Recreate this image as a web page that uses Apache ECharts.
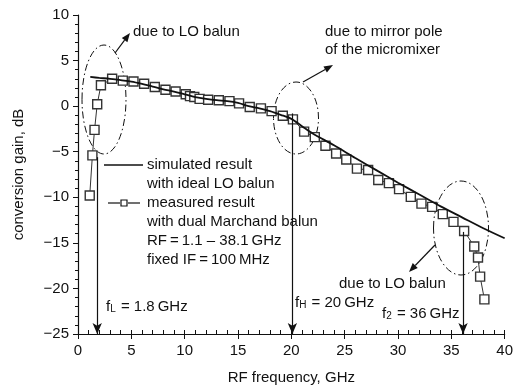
<!DOCTYPE html>
<html>
<head>
<meta charset="utf-8">
<script src="https://cdn.jsdelivr.net/npm/echarts@6/dist/echarts.min.js"></script>
<style>
  html, body { margin: 0; padding: 0; background: #fff; }
  #chart { width: 516px; height: 392px; }
</style>
</head>
<body>
<div id="chart"></div>
<script>
// measured result (dual Marchand balun)
const measFreq = [1.1, 1.35, 1.55, 1.8, 2.15, 3.2, 4.2, 5.2, 6.2, 7.2, 8.2, 9.15, 10.1, 10.5, 10.9, 11.4,
  12.2, 13.2, 14.2, 15.1, 16.1, 17.15, 18.15, 19.2, 20.15, 21.2, 22.2, 23.2, 24.2, 25.15, 26.15, 27.2,
  28.15, 29.15, 30.1, 31.2, 32.2, 33.2, 34.2, 35.2, 36.2, 37.15, 37.5, 37.7, 38.1];
const measGain = [-9.8, -5.4, -2.6, 0.2, 2.3, 3.0, 2.8, 2.7, 2.45, 2.1, 1.8, 1.6, 1.3, 1.1, 1.0, 0.8,
  0.7, 0.65, 0.55, 0.3, -0.1, -0.25, -0.55, -1.05, -1.45, -2.8, -3.4, -4.35, -5.2, -5.85, -6.85, -7.0,
  -8.1, -8.45, -9.1, -9.95, -10.7, -11.05, -11.85, -12.7, -13.7, -15.4, -16.6, -18.7, -21.2];

// simulated result (ideal LO balun)
const simFreq = [1.15, 2, 3, 4, 5, 6, 7, 8, 9, 10, 11, 12, 13, 14, 15, 16, 17, 18, 19, 20,
  21, 22, 24, 26, 28, 30, 32, 34, 36, 38, 40];
const simGain = [3.2, 3.1, 3.0, 2.85, 2.7, 2.45, 2.15, 1.85, 1.6, 1.3, 1.0, 0.8, 0.65, 0.55, 0.35, 0.0,
  -0.25, -0.55, -0.95, -1.4, -2.2, -3.0, -4.3, -5.7, -7.05, -8.4, -9.7, -11.0, -12.2, -13.4, -14.5];

// vertical marker arrows: frequency and gain where the arrow starts
const markFreq = [1.8, 20.1, 36.1];
const markTop = [-5.6, -0.8, -13.8];

const FONT = '"Liberation Sans", Arial, Helvetica, sans-serif';
const FS = 15;

const chart = echarts.init(document.getElementById('chart'), null, { renderer: 'canvas' });

const pairs = (xs, ys) => xs.map((x, i) => [x, ys[i]]);
const minus = v => String(v).replace('-', '\u2212');

function arrow(x1, y1, x2, y2) {
  const a = Math.atan2(y2 - y1, x2 - x1);
  const len = 9, w = 3.5;
  const bx = x2 - len * Math.cos(a), by = y2 - len * Math.sin(a);
  const px = -Math.sin(a) * w, py = Math.cos(a) * w;
  return [
    { type: 'line', shape: { x1, y1, x2: bx, y2: by }, style: { stroke: '#111', lineWidth: 1.2 } },
    { type: 'polygon', shape: { points: [[x2, y2], [bx + px, by + py], [bx - px, by - py]] }, style: { fill: '#111' } }
  ];
}

function ellipse(cx, cy, rx, ry) {
  return { type: 'ellipse', shape: { cx, cy, rx, ry },
    style: { fill: null, stroke: '#111', lineWidth: 1, lineDash: [7, 3, 1.5, 3] } };
}

function txt(x, y, text) {
  return { type: 'text', x, y, style: { text, font: FS + 'px ' + FONT, fill: '#111', verticalAlign: 'middle' } };
}

const subRich = {
  m: { fontSize: FS, fontFamily: FONT, fill: '#111' },
  s: { fontSize: 10, fontFamily: FONT, fill: '#111', verticalAlign: 'bottom', padding: [4, 1, 0, 0] }
};

const graphics = [].concat(
  ellipse(104, 99.5, 22, 54.5),
  ellipse(296, 118, 22.5, 36),
  ellipse(461, 228, 27.5, 47),
  arrow(115, 53, 130, 33),
  arrow(303, 82, 333, 65),
  arrow(435, 245, 409, 272),
  txt(133, 32, 'due to LO balun'),
  txt(325, 32, 'due to mirror pole'),
  txt(325, 50, 'of the micromixer'),
  txt(339, 284, 'due to LO balun'),
  { type: 'text', x: 106, y: 307, style: { text: '{m|f}{s|L}{m| = 1.8\u2009GHz}', rich: subRich, verticalAlign: 'middle' } },
  { type: 'text', x: 295, y: 303, style: { text: '{m|f}{s|H}{m| = 20\u2009GHz}', rich: subRich, verticalAlign: 'middle' } },
  { type: 'text', x: 382, y: 314, style: { text: '{m|f}{s|2}{m| = 36\u2009GHz}', rich: subRich, verticalAlign: 'middle' } },
  // legend
  { type: 'line', shape: { x1: 104, y1: 165, x2: 143, y2: 165 }, style: { stroke: '#111', lineWidth: 1.6 } },
  { type: 'line', shape: { x1: 108, y1: 203, x2: 120, y2: 203 }, style: { stroke: '#111', lineWidth: 1.2 } },
  { type: 'rect', shape: { x: 121, y: 200, width: 6, height: 6 }, style: { fill: '#fff', stroke: '#111', lineWidth: 1.2 } },
  { type: 'line', shape: { x1: 128, y1: 203, x2: 140, y2: 203 }, style: { stroke: '#111', lineWidth: 1.2 } },
  txt(147, 165, 'simulated result'),
  txt(147, 184, 'with ideal LO balun'),
  txt(147, 203, 'measured result'),
  txt(147, 222, 'with dual Marchand balun'),
  txt(147, 241, 'RF\u2009=\u20091.1 \u2013 38.1\u2009GHz'),
  txt(147, 260, 'fixed IF\u2009=\u2009100\u2009MHz')
);

const option = {
  animation: false,
  backgroundColor: '#fff',
  grid: { left: 78, right: 9, top: 15, bottom: 58 },
  xAxis: [{
    type: 'value', min: 0, max: 40, interval: 5,
    name: 'RF frequency, GHz', nameLocation: 'middle', nameGap: 36,
    nameTextStyle: { fontSize: FS, fontFamily: FONT, color: '#111' },
    axisLine: { onZero: false, lineStyle: { color: '#111', width: 1.2 } },
    axisTick: { inside: false, length: 5, lineStyle: { color: '#111' } },
    axisLabel: { fontSize: FS, fontFamily: FONT, color: '#111', margin: 9 },
    splitLine: { show: false }
  }, {
    // minor ticks pointing into the plot
    type: 'value', min: 0, max: 40, interval: 1, position: 'bottom',
    axisLine: { show: false, onZero: false },
    axisTick: { inside: true, length: 4, lineStyle: { color: '#111' } },
    axisLabel: { show: false },
    splitLine: { show: false }
  }],
  yAxis: {
    type: 'value', min: -25, max: 10, interval: 5,
    name: 'conversion gain, dB', nameLocation: 'middle', nameGap: 52, nameRotate: 90,
    nameTextStyle: { fontSize: FS, fontFamily: FONT, color: '#111' },
    axisLine: { show: true, lineStyle: { color: '#111', width: 1.2 } },
    axisTick: { show: true, length: 5, lineStyle: { color: '#111' } },
    minorTick: { show: true, splitNumber: 5, length: 3, lineStyle: { color: '#111' } },
    axisLabel: { fontSize: FS, fontFamily: FONT, color: '#111', margin: 9, formatter: minus },
    splitLine: { show: false }
  },
  series: [{
    name: 'measured result',
    type: 'line',
    data: pairs(measFreq, measGain),
    symbol: 'rect', symbolSize: 9,
    itemStyle: { color: '#fff', borderColor: '#333', borderWidth: 1.4 },
    lineStyle: { color: '#333', width: 1 },
    z: 3,
    markLine: {
      silent: true, symbol: ['none', 'arrow'], symbolSize: [7, 11],
      label: { show: false },
      lineStyle: { color: '#111', width: 1.2, type: 'solid' },
      data: markFreq.map((f, i) => [{ coord: [f, markTop[i]] }, { coord: [f, -25] }])
    }
  }, {
    name: 'simulated result',
    type: 'line',
    data: pairs(simFreq, simGain),
    symbol: 'none', smooth: 0.3,
    lineStyle: { color: '#111', width: 1.8 },
    z: 4
  }],
  graphic: graphics
};

chart.setOption(option);
</script>
</body>
</html>
